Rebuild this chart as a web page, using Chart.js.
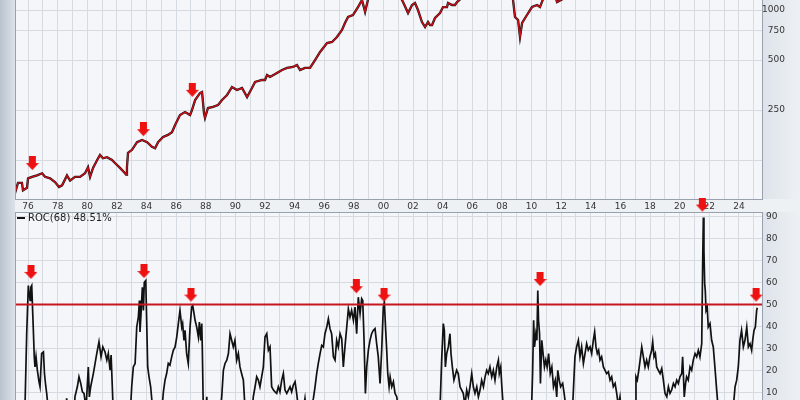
<!DOCTYPE html>
<html>
<head>
<meta charset="utf-8">
<script src="https://cdn.jsdelivr.net/npm/chart.js@4.4.1/dist/chart.umd.min.js"></script>
<style>
  html, body { margin: 0; padding: 0; width: 800px; height: 400px; overflow: hidden; background: #eef1f4; }
  #leftStrip { position: absolute; left: 0; top: 0; width: 15px; height: 400px; background: linear-gradient(to right, #b9c3cf, #dce2e9); }
  .axisBg { position: absolute; left: 762px; width: 38px; background: linear-gradient(to right, #dde3ea, #eef1f4); }
  canvas { position: absolute; left: 0; }
  #rocLegend { position: absolute; left: 17px; top: 212px; font: 10px "DejaVu Sans", Verdana, sans-serif; line-height: 12px; color: #222; white-space: nowrap; }
  #rocLegend .dash { display: inline-block; width: 8px; height: 2px; background: #111; vertical-align: middle; margin-right: 3px; }
</style>
</head>
<body>
<div id="leftStrip"></div>
<div class="axisBg" style="top:0;height:199px"></div>
<div class="axisBg" style="top:212px;height:188px"></div>
<canvas id="priceChart" width="800" height="212" style="top:0"></canvas>
<canvas id="rocChart" width="800" height="225" style="top:195px"></canvas>
<div id="rocLegend"><span class="dash"></span>ROC(68) 48.51%</div>
<script>
// time axis (decimal years)
var xMin = 1975.12, xMax = 2025.56;
var gridYears = [1976, 1977, 1978, 1979, 1980, 1981, 1982, 1983, 1984, 1985, 1986, 1987, 1988, 1989, 1990,
  1991, 1992, 1993, 1994, 1995, 1996, 1997, 1998, 1999, 2000, 2001, 2002, 2003, 2004, 2005, 2006, 2007,
  2008, 2009, 2010, 2011, 2012, 2013, 2014, 2015, 2016, 2017, 2018, 2019, 2020, 2021, 2022, 2023, 2024, 2025];
var xTickYears = [1976, 1978, 1980, 1982, 1984, 1986, 1988, 1990, 1992, 1994, 1996, 1998, 2000,
  2002, 2004, 2006, 2008, 2010, 2012, 2014, 2016, 2018, 2020, 2022, 2024];
var xTickLabels = ['76', '78', '80', '82', '84', '86', '88', '90', '92', '94', '96', '98', '00',
  '02', '04', '06', '08', '10', '12', '14', '16', '18', '20', '22', '24'];

// price panel
var priceMin = 72.8, priceMax = 1149;
var priceTicks = [125, 250, 500, 750, 1000];
var priceTickLabels = ['', '250', '500', '750', '1000'];
var priceYears = [1975.12, 1975.32, 1975.59, 1975.66, 1975.93, 1976.00, 1976.27, 1976.61, 1976.95, 1977.15,
  1977.49, 1977.82, 1978.09, 1978.30, 1978.63, 1978.84, 1979.17, 1979.51, 1979.85, 1980.05,
  1980.19, 1980.39, 1980.73, 1980.86, 1981.06, 1981.33, 1981.67, 1981.87, 1982.21, 1982.55,
  1982.62, 1982.68, 1982.75, 1983.02, 1983.36, 1983.70, 1984.04, 1984.37, 1984.58, 1984.78,
  1985.12, 1985.45, 1985.72, 1985.93, 1986.26, 1986.60, 1986.94, 1987.07, 1987.28, 1987.61,
  1987.75, 1987.88, 1987.95, 1988.15, 1988.49, 1988.83, 1989.10, 1989.44, 1989.77, 1990.11,
  1990.45, 1990.79, 1991.12, 1991.33, 1991.80, 1992.00, 1992.14, 1992.34, 1992.81, 1993.15,
  1993.49, 1993.89, 1994.16, 1994.37, 1994.70, 1995.04, 1995.38, 1995.72, 1996.19, 1996.53,
  1996.86, 1997.20, 1997.40, 1997.61, 1997.94, 1998.28, 1998.55, 1998.76, 1998.96, 1999.30,
  1999.90, 2000.20, 2000.70, 2001.00, 2001.25, 2001.32, 2001.66, 2001.93, 2002.13, 2002.33,
  2002.60, 2002.81, 2003.01, 2003.14, 2003.28, 2003.48, 2003.82, 2004.02, 2004.29, 2004.36,
  2004.63, 2004.83, 2004.97, 2005.17, 2005.80, 2006.50, 2007.30, 2007.80, 2008.30, 2008.60,
  2008.75, 2008.88, 2009.09, 2009.22, 2009.36, 2009.69, 2010.03, 2010.37, 2010.57, 2010.77,
  2011.20, 2011.50, 2011.72, 2012.06, 2012.60, 2013.50, 2014.50, 2015.50, 2016.10, 2017.00,
  2018.00, 2018.95, 2020.00, 2020.22, 2021.00, 2022.00, 2022.80, 2024.00, 2025.20];
var priceValues = [79, 91, 91, 82, 85, 97, 99, 101, 104, 99,
  97, 92, 86, 88, 101, 94, 99, 99, 104, 113,
  99, 112, 128, 134, 128, 130, 125, 120, 112, 104,
  102, 113, 138, 144, 160, 165, 160, 150, 147, 160,
  172, 177, 184, 203, 233, 243, 233, 250, 287, 316,
  321, 240, 224, 257, 261, 268, 287, 308, 344, 330,
  339, 299, 339, 369, 379, 379, 406, 395, 418, 435,
  448, 454, 467, 435, 448, 448, 500, 559, 633, 642,
  688, 758, 835, 908, 933, 1042, 1149, 973, 1160, 1300,
  1450, 1420, 1480, 1300, 1150, 1117, 959, 1072, 1102, 1000,
  847, 790, 847, 812, 812, 895, 959, 1042, 1042, 1102,
  1072, 1072, 1117, 1160, 1240, 1280, 1480, 1540, 1380, 1250,
  1149, 908, 871, 688, 835, 933, 1042, 1072, 1042, 1160,
  1320, 1300, 1117, 1160, 1400, 1650, 1950, 2100, 1900, 2300,
  2700, 2500, 3200, 2400, 3800, 4600, 3600, 4800, 5900];
var priceArrowYears = [1976.29, 1983.79, 1987.09];
var priceArrowValues = [108.8, 174, 300];

// ROC(68) panel
var rocMin = -2.5, rocMax = 92;
var rocTicks = [10, 20, 30, 40, 50, 60, 70, 80, 90];
var rocSignalLevel = 50;
var rocYears = [1975.12, 1975.70, 1975.80, 1975.91, 1976.02, 1976.14, 1976.19, 1976.25, 1976.31, 1976.36,
  1976.42, 1976.47, 1976.54, 1976.63, 1976.74, 1976.81, 1976.92, 1977.04, 1977.11, 1977.19,
  1977.26, 1977.37, 1977.60, 1978.00, 1978.45, 1978.61, 1978.70, 1978.90, 1979.10, 1979.17,
  1979.33, 1979.44, 1979.56, 1979.67, 1979.78, 1979.92, 1980.07, 1980.14, 1980.23, 1980.41,
  1980.64, 1980.79, 1980.93, 1981.05, 1981.20, 1981.32, 1981.42, 1981.54, 1981.61, 1981.69,
  1981.76, 1982.00, 1982.50, 1982.90, 1983.00, 1983.11, 1983.23, 1983.34, 1983.45, 1983.52,
  1983.56, 1983.63, 1983.72, 1983.79, 1983.85, 1983.95, 1984.01, 1984.08, 1984.17, 1984.28,
  1984.42, 1984.70, 1985.05, 1985.14, 1985.25, 1985.36, 1985.47, 1985.58, 1985.70, 1985.81,
  1985.93, 1986.04, 1986.15, 1986.26, 1986.38, 1986.44, 1986.53, 1986.60, 1986.71, 1986.82,
  1986.94, 1987.05, 1987.12, 1987.21, 1987.28, 1987.39, 1987.50, 1987.57, 1987.66, 1987.73,
  1987.77, 1987.84, 1987.95, 1988.07, 1988.12, 1988.50, 1988.95, 1989.08, 1989.19, 1989.30,
  1989.42, 1989.53, 1989.64, 1989.75, 1989.86, 1989.97, 1990.09, 1990.20, 1990.31, 1990.42,
  1990.54, 1990.65, 1990.90, 1991.15, 1991.21, 1991.33, 1991.44, 1991.55, 1991.66, 1991.89,
  1992.00, 1992.12, 1992.23, 1992.34, 1992.45, 1992.57, 1992.68, 1992.79, 1992.90, 1993.01,
  1993.13, 1993.24, 1993.35, 1993.47, 1993.58, 1993.69, 1993.80, 1993.91, 1994.03, 1994.14,
  1994.25, 1994.50, 1994.70, 1994.78, 1995.10, 1995.27, 1995.38, 1995.49, 1995.60, 1995.72,
  1995.83, 1995.94, 1996.05, 1996.17, 1996.28, 1996.39, 1996.50, 1996.62, 1996.73, 1996.84,
  1996.95, 1997.07, 1997.18, 1997.29, 1997.40, 1997.52, 1997.63, 1997.74, 1997.85, 1997.97,
  1998.08, 1998.19, 1998.30, 1998.42, 1998.53, 1998.60, 1998.69, 1998.78, 1998.87, 1998.98,
  1999.09, 1999.20, 1999.31, 1999.43, 1999.54, 1999.65, 1999.77, 1999.88, 1999.99, 2000.06,
  2000.15, 2000.22, 2000.29, 2000.38, 2000.45, 2000.56, 2000.67, 2000.78, 2000.90, 2001.00,
  2001.50, 2002.50, 2003.30, 2003.82, 2003.93, 2004.04, 2004.11, 2004.18, 2004.27, 2004.38,
  2004.49, 2004.56, 2004.65, 2004.76, 2004.94, 2005.05, 2005.17, 2005.28, 2005.39, 2005.50,
  2005.62, 2005.73, 2005.84, 2005.96, 2006.07, 2006.18, 2006.30, 2006.41, 2006.52, 2006.63,
  2006.75, 2006.86, 2006.97, 2007.08, 2007.19, 2007.31, 2007.42, 2007.53, 2007.65, 2007.76,
  2007.82, 2007.92, 2007.98, 2008.09, 2008.50, 2009.20, 2009.80, 2010.00, 2010.07, 2010.14,
  2010.20, 2010.29, 2010.36, 2010.42, 2010.47, 2010.54, 2010.60, 2010.69, 2010.80, 2010.87,
  2010.96, 2011.05, 2011.15, 2011.26, 2011.37, 2011.48, 2011.60, 2011.70, 2011.77, 2011.87,
  2011.96, 2012.10, 2012.20, 2012.32, 2012.55, 2012.77, 2012.93, 2013.04, 2013.16, 2013.27,
  2013.38, 2013.50, 2013.61, 2013.72, 2013.83, 2013.95, 2014.06, 2014.17, 2014.26, 2014.35,
  2014.44, 2014.53, 2014.62, 2014.73, 2014.85, 2014.96, 2015.07, 2015.19, 2015.30, 2015.41,
  2015.52, 2015.64, 2015.75, 2015.86, 2015.97, 2016.08, 2016.50, 2016.99, 2017.05, 2017.14,
  2017.24, 2017.33, 2017.44, 2017.55, 2017.66, 2017.77, 2017.88, 2017.99, 2018.11, 2018.18,
  2018.27, 2018.36, 2018.45, 2018.56, 2018.68, 2018.79, 2018.90, 2019.01, 2019.13, 2019.24,
  2019.35, 2019.46, 2019.58, 2019.69, 2019.80, 2019.91, 2020.02, 2020.14, 2020.20, 2020.25,
  2020.31, 2020.40, 2020.47, 2020.58, 2020.70, 2020.81, 2020.92, 2021.04, 2021.15, 2021.26,
  2021.37, 2021.49, 2021.55, 2021.60, 2021.64, 2021.69, 2021.73, 2021.78, 2021.86, 2021.93,
  2022.05, 2022.16, 2022.27, 2022.38, 2022.50, 2022.61, 2023.00, 2023.50, 2023.62, 2023.74,
  2023.85, 2023.96, 2024.07, 2024.18, 2024.30, 2024.41, 2024.53, 2024.64, 2024.75, 2024.86,
  2024.93, 2025.02, 2025.11, 2025.20, 2025.24];
var rocValues = [-8, -2, 5, 36.7, 58.6, 51.8, 57.8, 58.6, 47.3, 38.2,
  26.2, 21.6, 26.2, 20.1, 14.9, 12.6, 27.7, 28.4, 18.6, 13.3,
  9.6, 2, -8, -12, -3, 7.3, -2, -6, -1, 8.1,
  12.6, 17.1, 14.1, 10.3, 9.6, 3, 21.6, 8, 12.6, 18.6,
  27.7, 33, 26.2, 30.7, 28.4, 24.7, 27.7, 20.1, 27, 12.6,
  0, -10, -15, 0, 12.6, 21.6, 23.2, 39.7, 44.3, 51.8,
  37.5, 45.8, 57.8, 47.3, 60.1, 60.9, 42.8, 21.6, 17.1, 12.6,
  2, -5, 3, 10.3, 15.6, 18.6, 23.2, 22.4, 26.2, 29.2,
  30.7, 35.2, 41.3, 47.3, 39.7, 41.3, 33.7, 38.2, 27.7, 23.2,
  39.7, 48.8, 49.5, 45.8, 42.8, 39.7, 35.2, 42, 33.7, 41.3,
  29.2, 0, -8, 8, -2, -10, 0, 8, 20.1, 23.2,
  24.7, 27.7, 36.7, 33.7, 30.7, 33.7, 24.7, 27.7, 21.6, 18.6,
  15.6, 3, -8, 3, 8, 12.6, 17.1, 15.6, 12.6, 21.6,
  35.2, 36.7, 29.2, 30.7, 12.6, 11.1, 10.3, 9.6, 12.6, 10.3,
  15.6, 18.6, 11.1, 9.6, 11.1, 12.6, 10.3, 13.3, 14.9, 9.6,
  3, -2, 7.3, 2, 3, 7.3, 12.6, 18.6, 23.2, 27.7,
  31.4, 30.7, 36.7, 39.7, 43.5, 39, 36.7, 26.2, 24.7, 33.7,
  30.7, 36.7, 34.5, 21.6, 30.7, 39.7, 48, 44.3, 47.3, 42.8,
  48.8, 36.7, 53.3, 45.8, 52.6, 51.8, 33.7, 9.6, 21.6, 29.2,
  33.7, 36.7, 38.2, 39, 32.2, 26.2, 14.1, 29.2, 48.8, 51,
  38.2, 29.2, 18.6, 12.6, 17.1, 12.6, 14.9, 9.6, 8, 2,
  -15, -20, -10, 3, 24.7, 41.3, 38.2, 21.6, 27.7, 30.7,
  36.7, 27.7, 21.6, 15.6, 20.1, 18.6, 12.6, 11.1, 9.6, 4,
  11.1, 8, 12.6, 18.6, 12.6, 9.6, 12.6, 8, 11.1, 15.6,
  12.6, 17.1, 20.1, 18.6, 21.6, 17.1, 20.1, 15.6, 21.6, 24.7,
  18.6, 21.6, 14.1, 3, -15, -40, -15, 3, 18.6, 42.8,
  30.7, 36.7, 33.7, 56.3, 42.8, 36.7, 14.1, 33.7, 26.2, 21.6,
  24.7, 21.6, 27.7, 18.6, 21.6, 12.6, 15.6, 8, 20.1, 15.6,
  12.6, 14.1, 9.6, 3, -3, 3, 26.2, 30.7, 33.7, 26.2,
  30.7, 23.2, 27.7, 32.2, 29.2, 30.7, 27.7, 33.7, 37.5, 30.7,
  27.7, 29.2, 24.7, 26.2, 21.6, 20.1, 18.6, 19.4, 15.6, 17.1,
  12.6, 14.1, 9.6, 4, 8, 0, -5, 3, 17.1, 15.6,
  20.1, 24.7, 30.7, 26.2, 21.6, 24.7, 21.6, 26.2, 29.2, 33,
  26.2, 27.7, 21.6, 20.1, 18.6, 20.9, 15.6, 9.6, 8, 12.6,
  9.6, 11.1, 14.1, 12.6, 15.6, 14.1, 17.1, 18.6, 26.2, 18.6,
  8, 14.1, 17.1, 15.6, 21.6, 20.1, 24.7, 27.7, 26.2, 29.2,
  26.2, 32.2, 66.9, 89.5, 74.4, 59.4, 56.3, 47.3, 48.8, 39.7,
  41.3, 33.7, 30.7, 21.6, 11.1, 2, -12, -2, 3, 12.6,
  15.6, 21.6, 33.7, 38.2, 30.7, 33.7, 39.7, 30.7, 32.2, 29.2,
  33.7, 38.2, 39.7, 47.3, 48.5];
var rocArrowYears = [1976.20, 1983.83, 1987.00, 1998.17, 2000.04, 2010.57, 2021.53, 2025.16];
var rocArrowValues = [61.6, 62, 51.3, 55.1, 51.3, 58.4, 92.2, 51.3];

var gridColor = '#d6dae1';
var frameColor = '#98a1ad';
Chart.defaults.font.family = '"DejaVu Sans", Verdana, sans-serif';
Chart.defaults.font.size = 9;
Chart.defaults.color = '#333';

function toPoints(xs, ys) {
  return xs.map(function(x, i) { return { x: x, y: ys[i] }; });
}

// red down arrow, tip at the image centre
function makeArrow() {
  var cv = document.createElement('canvas');
  cv.width = 13; cv.height = 28;
  var g = cv.getContext('2d');
  g.fillStyle = '#ee1111';
  g.fillRect(3, 0, 7, 7);
  g.beginPath();
  g.moveTo(0, 7); g.lineTo(13, 7); g.lineTo(6.5, 14); g.closePath();
  g.fill();
  return cv;
}
var arrowImg = makeArrow();

var plotFrame = {
  id: 'plotFrame',
  beforeDraw: function(chart) {
    var a = chart.chartArea, c = chart.ctx;
    c.save();
    c.fillStyle = '#f4f6f9';
    c.fillRect(a.left, a.top, a.right - a.left, a.bottom - a.top);
    c.restore();
  },
  afterDraw: function(chart) {
    var a = chart.chartArea, c = chart.ctx;
    c.save();
    c.strokeStyle = frameColor;
    c.lineWidth = 1;
    c.beginPath();
    c.moveTo(a.left + 0.5, a.top);
    c.lineTo(a.left + 0.5, a.bottom);
    c.stroke();
    c.restore();
  }
};

function xScale(showLabels) {
  return {
    type: 'linear', min: xMin, max: xMax,
    position: showLabels ? 'bottom' : 'top',
    grid: { color: gridColor, drawTicks: false },
    border: { color: frameColor },
    ticks: {
      display: showLabels, padding: 2, maxRotation: 0, autoSkip: false,
      callback: function(v) { var i = xTickYears.indexOf(v); return i >= 0 ? xTickLabels[i] : ''; }
    },
    afterBuildTicks: function(s) { s.ticks = gridYears.map(function(v) { return { value: v }; }); },
    afterFit: function(s) { s.height = showLabels ? 13 : 0; s.paddingLeft = 0; s.paddingRight = 0; }
  };
}

new Chart(document.getElementById('priceChart'), {
  type: 'line',
  data: {
    datasets: [{
      type: 'scatter', data: toPoints(priceArrowYears, priceArrowValues),
      pointStyle: arrowImg, pointRadius: 7, clip: false
    }, {
      data: toPoints(priceYears, priceValues),
      borderColor: '#c8101a', borderWidth: 1.4, pointRadius: 0, tension: 0
    }, {
      data: toPoints(priceYears, priceValues),
      borderColor: '#111', borderWidth: 2.3, pointRadius: 0, tension: 0
    }]
  },
  options: {
    responsive: false, animation: false, devicePixelRatio: 1,
    layout: { autoPadding: false, padding: { left: 15, top: 0, right: 15, bottom: 0 } },
    plugins: { legend: { display: false }, tooltip: { enabled: false } },
    scales: {
      x: xScale(true),
      y: {
        type: 'logarithmic', position: 'right', min: priceMin, max: priceMax,
        grid: { color: gridColor, drawTicks: false },
        border: { color: frameColor },
        ticks: {
          padding: 0, crossAlign: 'far',
          callback: function(v) { var i = priceTicks.indexOf(v); return i >= 0 ? priceTickLabels[i] : ''; }
        },
        afterBuildTicks: function(s) { s.ticks = priceTicks.map(function(v) { return { value: v }; }); },
        afterFit: function(s) { s.width = 23; s.paddingTop = 0; s.paddingBottom = 0; }
      }
    }
  },
  plugins: [plotFrame]
});

new Chart(document.getElementById('rocChart'), {
  type: 'line',
  data: {
    datasets: [{
      type: 'scatter', data: toPoints(rocArrowYears, rocArrowValues),
      pointStyle: arrowImg, pointRadius: 7, clip: false
    }, {
      data: [{ x: xMin, y: rocSignalLevel }, { x: xMax, y: rocSignalLevel }],
      borderColor: '#c8161e', borderWidth: 2, pointRadius: 0
    }, {
      data: toPoints(rocYears, rocValues),
      borderColor: '#111', borderWidth: 1.7, pointRadius: 0, tension: 0
    }]
  },
  options: {
    responsive: false, animation: false, devicePixelRatio: 1,
    layout: { autoPadding: false, padding: { left: 15, top: 17, right: 0, bottom: 0 } },
    plugins: { legend: { display: false }, tooltip: { enabled: false } },
    scales: {
      x: xScale(false),
      y: {
        type: 'linear', position: 'right', min: rocMin, max: rocMax,
        grid: { color: gridColor, drawTicks: false },
        border: { color: frameColor },
        ticks: { padding: 4, crossAlign: 'near' },
        afterBuildTicks: function(s) { s.ticks = rocTicks.map(function(v) { return { value: v }; }); },
        afterFit: function(s) { s.width = 38; s.paddingTop = 0; s.paddingBottom = 0; }
      }
    }
  },
  plugins: [plotFrame]
});
</script>
</body>
</html>
